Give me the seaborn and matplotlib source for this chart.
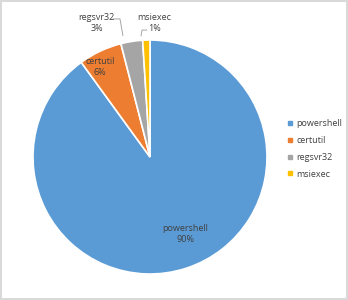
import numpy as np
import matplotlib
matplotlib.use("Agg")
import matplotlib.pyplot as plt
from matplotlib.lines import Line2D
import seaborn as sns

categories = ["powershell", "certutil", "regsvr32", "msiexec"]
values = [90, 6, 3, 1]
pct_labels = ["90%", "6%", "3%", "1%"]
colors = ["#5B9BD5", "#ED7D31", "#A5A5A5", "#FFC000"]

sns.set_theme(style="white")
plt.rcParams["font.family"] = ["Open Sans", "DejaVu Sans"]
text_color = "#404040"

fig = plt.figure(figsize=(3.48, 3.00), dpi=100)
fig.patch.set_facecolor("white")
fig.patch.set_edgecolor("#d9d9d9")
fig.patch.set_linewidth(1.5)

ax = fig.add_axes([33 / 348, 26 / 300, 234 / 348, 234 / 300])
wedges, _ = ax.pie(values, colors=colors, startangle=90, counterclock=False,
                   wedgeprops=dict(edgecolor="white", linewidth=1.2), radius=1.0)
ax.set_xlim(-1, 1)
ax.set_ylim(-1, 1)
ax.set_aspect("equal")
ax.axis("off")

fs = 6.5
for i, w in enumerate(wedges):
    mid = np.deg2rad((w.theta1 + w.theta2) / 2)
    txt = f"{categories[i]}\n{pct_labels[i]}"
    if i == 0:
        r = 0.72
        x, y = r * np.cos(mid) + 0.08, r * np.sin(mid) + 0.03
        ax.text(x, y, txt, ha="center", va="center", fontsize=fs, color=text_color, linespacing=1.3)
    elif i == 1:
        r = 0.86
        x, y = r * np.cos(mid) - 0.06, r * np.sin(mid) - 0.01
        ax.text(x, y, txt, ha="center", va="center", fontsize=fs, color=text_color, linespacing=1.3)
    else:
        ex, ey = np.cos(mid), np.sin(mid)
        if i == 2:
            tx, ty = ex - 0.30, 1.145
            ax.plot([ex - 0.16, ex - 0.10, ex - 0.075], [1.18, 1.18, ey + 0.05],
                    color="#a6a6a6", lw=0.7, clip_on=False)
        else:
            tx, ty = ex + 0.07, 1.145
            ax.plot([ex + 0.005, ex - 0.037, ex - 0.045], [1.085, 1.085, ey + 0.035],
                    color="#a6a6a6", lw=0.7, clip_on=False)
        ax.text(tx, ty, txt, ha="center", va="center", fontsize=fs, color=text_color,
                linespacing=1.3, clip_on=False)

handles = [Line2D([0], [0], marker="s", linestyle="", markersize=3.2,
                  markerfacecolor=c, markeredgecolor=c) for c in colors]
fig.legend(handles, categories, loc="center left", bbox_to_anchor=(283 / 348, 1 - 149 / 300),
           frameon=False, fontsize=fs, labelcolor=text_color, handlelength=0.6,
           handletextpad=0.4, labelspacing=0.85, borderpad=0)

fig.savefig("out.png", dpi=100)
